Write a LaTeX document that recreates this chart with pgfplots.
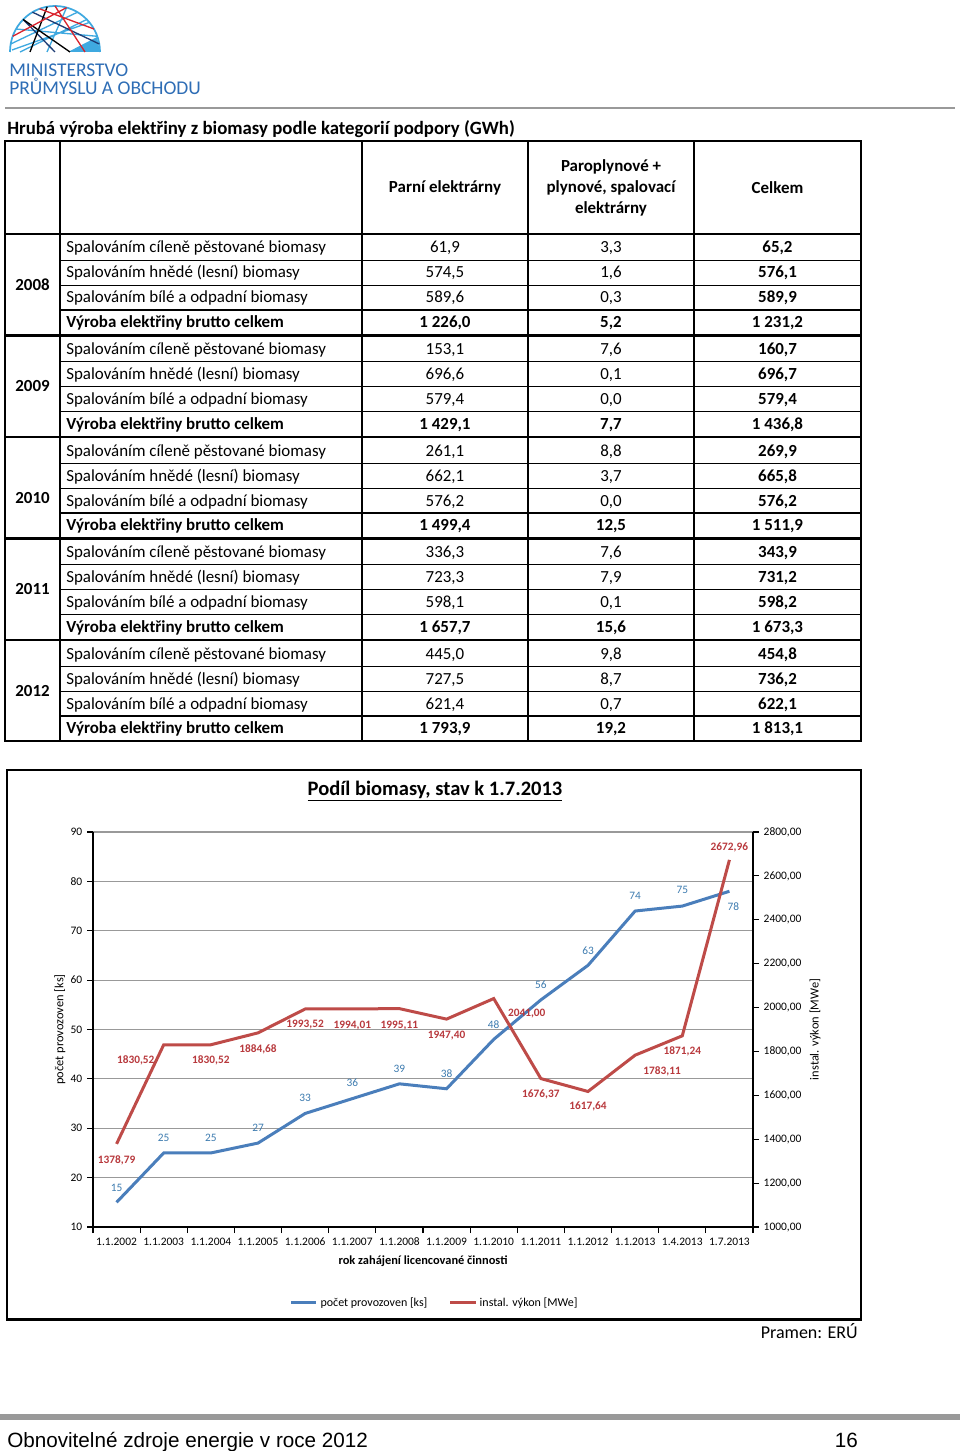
\documentclass[border=0pt]{standalone}
\usepackage{fontspec}
\setmainfont{Carlito}
\newfontfamily\arialfont{Liberation Sans}
\usepackage{pgfplots}
\usepackage{pgfplotstable}
\pgfplotsset{compat=1.18}
\pgfplotsset{/pgf/number format/assume math mode=true}

\definecolor{cBlue}{HTML}{4A7EBB}
\definecolor{cRed}{HTML}{BE4B48}
\definecolor{cBlueTxt}{HTML}{3D7BAF}
\definecolor{cRedTxt}{HTML}{B8393D}
\definecolor{cGrid}{HTML}{999999}
\definecolor{logoBlue}{HTML}{2E6DB5}
\definecolor{logoLight}{HTML}{3FA9E0}
\definecolor{logoNavy}{HTML}{1E3C74}
\definecolor{logoRed}{HTML}{D9232D}

% x = category index, dx/uy = label offset in px (uy up)
\pgfplotstableread{
x y dx uy
0 15 0 14
1 25 0 15
2 25 0 15
3 27 0 15
4 33 0 16
5 36 0 16
6 39 0 15
7 38 0 15
8 48 0 15
9 56 0 15
10 63 0 15
11 74 0 15
12 75 0 16
13 78 4 -15
}\countdata

\pgfplotstableread{
x y dx uy
0 1378.79 0 -16
1 1830.52 -28 -16
2 1830.52 0 -16
3 1884.68 0 -16
4 1993.52 0 -16
5 1994.01 0 -17
6 1995.11 0 -17
7 1947.40 0 -16
8 2041.00 33 -15
9 1676.37 0 -16
10 1617.64 0 -15
11 1783.11 27 -16
12 1871.24 0 -16
13 2672.96 0 12
}\powerdata

\newcommand\tf{\fontsize{12.7}{15}\selectfont}
\newcommand\af{\fontsize{8.6}{10}\selectfont}
\newcommand\lf{\fontsize{9.3}{11}\selectfont}
% table row: baseline y, label, three values
\newcommand\trow[5]{%
  \node[anchor=base west] at (66,#1) {#2};
  \node[anchor=base] at (445,#1) {#3};
  \node[anchor=base] at (611,#1) {#4};
  \node[anchor=base] at (777.5,#1) {\bfseries #5};}
\newcommand\groupA{Spalováním cíleně pěstované biomasy}
\newcommand\groupB{Spalováním hnědé (lesní) biomasy}
\newcommand\groupC{Spalováním bílé a odpadní biomasy}
\newcommand\groupD{\bfseries Výroba elektřiny brutto celkem}

\begin{document}
\begin{tikzpicture}
\begin{scope}[x=0.75pt, y=-0.75pt, every node/.style={inner sep=0pt}]
\path[use as bounding box] (0,0) rectangle (960,1451);

% logo
\begin{scope}[line width=1pt]
\draw[logoLight, line width=1.3pt] (10,52) arc[start angle=180, end angle=360, x radius=45, y radius=46];
\fill[logoLight] (68,52) -- (100,52) -- (97,37) -- cycle;
\draw[logoLight] (10.7,44) -- (77.5,12.2) (16,29) -- (97.3,36.3) (86.8,19.5) -- (20,52) (12,50) -- (89.5,22.4) (47,52) -- (66.6,7.6);
\draw[logoNavy] (32.5,12.2) -- (99.3,44) (23.2,19.5) -- (55,52);
\draw[black] (23.2,19.5) -- (70,52) (47.2,6.7) -- (30,52);
\draw[logoRed] (39.6,8.8) -- (94,29) (55,6) -- (85,52) (12.7,36.3) -- (66.6,7.6);
\end{scope}
\node[anchor=base west, text=logoBlue, font=\fontsize{14.6}{16}\selectfont] at (9,77) {MINISTERSTVO};
\node[anchor=base west, text=logoBlue, font=\fontsize{14.6}{16}\selectfont] at (9,95) {PRŮMYSLU A OBCHODU};
\draw[cGrid, line width=1.5pt] (5,108) -- (955,108);

% table
\node[anchor=base west, font=\fontsize{14.1}{16}\selectfont\bfseries] at (7,135) {Hrubá výroba elektřiny z biomasy podle kategorií podpory (GWh)};
\draw[line width=0.9pt] (60,141) -- (60,741) (362,141) -- (362,741) (528,141) -- (528,741) (694,141) -- (694,741);
\foreach \y in {260.5,285.5,310,361.5,386.5,411.5,463.5,488.5,513,564.5,589.5,614.5,666.5,691.5,716}
  \draw[line width=0.9pt] (60,\y) -- (861,\y);
\foreach \y in {234,335.5,437,538.5,640}
  \draw[line width=2pt] (5,\y) -- (861,\y);
\draw[line width=2pt] (5,141) rectangle (861,741);

\begin{scope}[font=\tf]
\node[font=\tf\bfseries] at (445,188) {Parní elektrárny};
\node[font=\tf\bfseries] at (611,167) {Paroplynové +};
\node[font=\tf\bfseries] at (611,188) {plynové, spalovací};
\node[font=\tf\bfseries] at (611,209) {elektrárny};
\node[font=\tf\bfseries] at (777.5,188) {Celkem};

\node[font=\tf\bfseries] at (32.5,285) {2008};
\node[font=\tf\bfseries] at (32.5,386) {2009};
\node[font=\tf\bfseries] at (32.5,498) {2010};
\node[font=\tf\bfseries] at (32.5,589) {2011};
\node[font=\tf\bfseries] at (32.5,691) {2012};

\trow{253}{\groupA}{61,9}{3,3}{65,2}
\trow{278}{\groupB}{574,5}{1,6}{576,1}
\trow{303}{\groupC}{589,6}{0,3}{589,9}
\trow{327}{\groupD}{\bfseries 1~226,0}{\bfseries 5,2}{1~231,2}

\trow{354}{\groupA}{153,1}{7,6}{160,7}
\trow{379}{\groupB}{696,6}{0,1}{696,7}
\trow{404}{\groupC}{579,4}{0,0}{579,4}
\trow{429}{\groupD}{\bfseries 1~429,1}{\bfseries 7,7}{1~436,8}

\trow{456}{\groupA}{261,1}{8,8}{269,9}
\trow{481}{\groupB}{662,1}{3,7}{665,8}
\trow{506}{\groupC}{576,2}{0,0}{576,2}
\trow{530}{\groupD}{\bfseries 1~499,4}{\bfseries 12,5}{1~511,9}

\trow{557}{\groupA}{336,3}{7,6}{343,9}
\trow{582}{\groupB}{723,3}{7,9}{731,2}
\trow{607}{\groupC}{598,1}{0,1}{598,2}
\trow{632}{\groupD}{\bfseries 1~657,7}{\bfseries 15,6}{1~673,3}

\trow{659}{\groupA}{445,0}{9,8}{454,8}
\trow{684}{\groupB}{727,5}{8,7}{736,2}
\trow{709}{\groupC}{621,4}{0,7}{622,1}
\trow{733}{\groupD}{\bfseries 1~793,9}{\bfseries 19,2}{1~813,1}
\end{scope}

% chart frame and title
\draw[line width=2.2pt] (7,770) rectangle (861,1319.5);
\node[font=\fontsize{15.4}{18}\selectfont\bfseries] at (435,791) {\underline{Podíl biomasy, stav k 1.7.2013}};

% source and footer
\node[anchor=base east, font=\fontsize{13.5}{16}\selectfont] at (858,1338) {Pramen: ERÚ};
\fill[cGrid] (0,1414) rectangle (960,1420);
\node[anchor=base west, font=\arialfont\fontsize{15.5}{18}\selectfont] at (7,1447) {Obnovitelné zdroje energie v roce 2012};
\node[anchor=base east, font=\arialfont\fontsize{15.5}{18}\selectfont] at (858,1447) {16};

\coordinate (plotorigin) at (93,1227);
\end{scope}

\begin{axis}[
  at={(plotorigin)}, anchor=south west,
  scale only axis, width=495pt, height=296.25pt,
  xmin=-0.5, xmax=13.5, ymin=10, ymax=90,
  axis x line*=bottom, axis y line*=left,
  axis line style={black, line width=1pt},
  tick align=outside, major tick length=4.5pt,
  tick style={black, line width=0.8pt},
  xtick={-0.5,0.5,...,13.5}, xticklabels={},
  extra x ticks={0,1,...,13},
  extra x tick labels={1.1.2002,1.1.2003,1.1.2004,1.1.2005,1.1.2006,1.1.2007,1.1.2008,1.1.2009,1.1.2010,1.1.2011,1.1.2012,1.1.2013,1.4.2013,1.7.2013},
  extra x tick style={grid=none, major tick length=0pt, tick label style={yshift=-4.5pt}},
  ytick={10,20,...,90},
  ymajorgrids, grid style={cGrid, line width=0.9pt},
  tick label style={font=\af},
  label style={font=\lf},
  xlabel={\bfseries rok zahájení licencované činnosti},
  xlabel style={at={(axis description cs:0.5,-0.086)}, anchor=center},
  ylabel={počet provozoven [ks]},
  ylabel style={at={(axis description cs:-0.05,0.5)}, anchor=center},
]
\addplot[cBlue, line width=2.25pt, mark=none,
  point meta=y,
  visualization depends on={\thisrow{dx}\as\dx},
  visualization depends on={\thisrow{uy}\as\uy},
  nodes near coords={\pgfmathprintnumber{\pgfplotspointmeta}},
  nodes near coords style={anchor=center, inner sep=0pt, xshift=\dx*0.75pt, yshift=\uy*0.75pt,
    font=\fontsize{8.5}{10}\selectfont, text=cBlueTxt}]
  table[x=x, y=y] {\countdata};
\end{axis}

\begin{axis}[
  at={(plotorigin)}, anchor=south west,
  scale only axis, width=495pt, height=296.25pt,
  xmin=-0.5, xmax=13.5, ymin=1000, ymax=2800,
  axis y line*=right, axis x line=none,
  axis line style={black, line width=1pt},
  tick align=outside, major tick length=4.5pt,
  tick style={black, line width=0.8pt},
  ytick={1000,1200,...,2800},
  yticklabel style={/pgf/number format/.cd, fixed, fixed zerofill, precision=2, use comma, 1000 sep={}},
  tick label style={font=\af},
  label style={font=\lf},
  ylabel={instal. výkon [MWe]},
  ylabel style={at={(axis description cs:1.094,0.5)}, anchor=center},
  legend style={at={(0.518,-0.192)}, anchor=center, draw=none, fill=none,
    legend columns=2, font=\fontsize{9}{11}\selectfont,
    /tikz/every even column/.append style={column sep=14pt}},
  legend image code/.code={\draw[#1] (0pt,0pt) -- (19pt,0pt);},
]
\addlegendimage{cBlue, line width=2.25pt}
\addlegendentry{počet provozoven [ks]}
\addplot[cRed, line width=2.25pt, mark=none,
  point meta=y,
  visualization depends on={\thisrow{dx}\as\dx},
  visualization depends on={\thisrow{uy}\as\uy},
  nodes near coords={\pgfmathprintnumber[fixed, fixed zerofill, precision=2, use comma, 1000 sep={}]{\pgfplotspointmeta}},
  nodes near coords style={anchor=center, inner sep=0pt, xshift=\dx*0.75pt, yshift=\uy*0.75pt,
    font=\fontsize{8.5}{10}\selectfont\bfseries, text=cRedTxt}]
  table[x=x, y=y] {\powerdata};
\addlegendentry{instal. výkon [MWe]}
\end{axis}
\end{tikzpicture}
\end{document}
